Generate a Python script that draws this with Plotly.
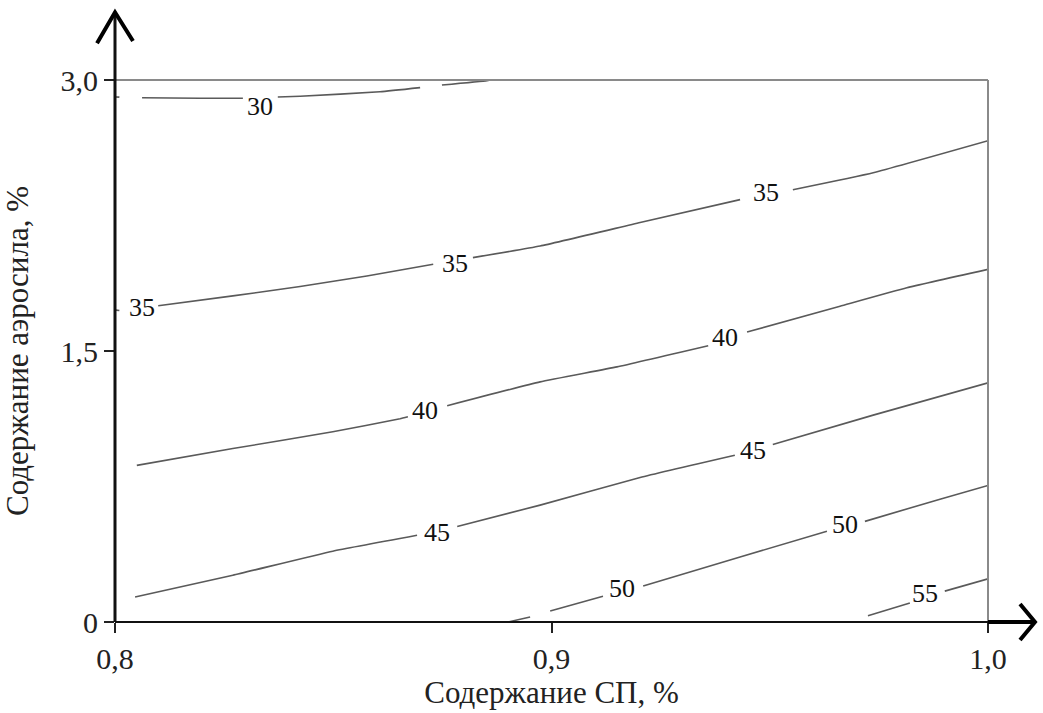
import plotly.graph_objects as go

# Содержание СП (x) и содержание аэросила (y) вдоль изолиний отклика
sp_30 = [0.8002, 0.8010, None, 0.8062, 0.8195, 0.8293, None, 0.8373, 0.8424, 0.8607, 0.8699, None, 0.8749, 0.8852, 0.8860]
aer_30 = [2.906, 2.905, None, 2.902, 2.899, 2.899, None, 2.906, 2.910, 2.935, 2.958, None, 2.972, 2.996, 3.000]

sp_35 = [0.8002, 0.8010, None, 0.8099, 0.8270, 0.8424, 0.8577, 0.8729, None,
         0.8820, 0.8974, 0.9203, 0.9432, None, 0.9553, 0.9737, 1.0000]
aer_35 = [1.726, 1.724, None, 1.750, 1.805, 1.857, 1.915, 1.980, None,
          2.017, 2.081, 2.211, 2.338, None, 2.393, 2.487, 2.664]

sp_40 = [0.8050, 0.8270, 0.8499, 0.8653, 0.8671, None, 0.8761, 0.8974, 0.9150, 0.9359, None,
         0.9448, 0.9661, 0.9814, 1.0000]
aer_40 = [0.867, 0.960, 1.053, 1.125, 1.136, None, 1.197, 1.329, 1.412, 1.529, None,
          1.605, 1.748, 1.850, 1.952]

sp_45 = [0.8046, 0.8270, 0.8499, 0.8692, None, 0.8784, 0.8974, 0.9203, 0.9420, None,
         0.9507, 0.9737, 1.0000]
aer_45 = [0.138, 0.259, 0.392, 0.480, None, 0.529, 0.647, 0.800, 0.923, None,
          0.982, 1.145, 1.324]

sp_50 = [0.8900, 0.8951, None, 0.8997, 0.9118, None, 0.9210, 0.9432, 0.9631, None,
         0.9718, 0.9890, 1.0000]
aer_50 = [0.000, 0.028, None, 0.061, 0.143, None, 0.199, 0.360, 0.502, None,
          0.557, 0.680, 0.756]

sp_55 = [0.9725, 0.9821, None, 0.9901, 1.0000]
aer_55 = [0.035, 0.105, None, 0.171, 0.239]

# Подписи уровней изолиний
label_text = ["30", "35", "35", "35", "40", "40", "45", "45", "50", "50", "55"]
label_sp = [0.8333, 0.8062, 0.8779, 0.9491, 0.8710, 0.9397, 0.8738, 0.9462, 0.9162, 0.9672, 0.9856]
label_aer = [2.851, 1.743, 1.985, 2.377, 1.169, 1.577, 0.496, 0.950, 0.188, 0.540, 0.160]

# Деления осей
x_ticks = [0.8, 0.9, 1.0]
x_ticktext = ["0,8", "0,9", "1,0"]
y_ticks = [0, 1.5, 3.0]
y_ticktext = ["0", "1,5", "3,0"]

FONT = "Liberation Serif, Times New Roman, serif"
LINE_COLOR = "#5a5a5a"

fig = go.Figure()
for xs, ys in [(sp_30, aer_30), (sp_35, aer_35), (sp_40, aer_40),
               (sp_45, aer_45), (sp_50, aer_50), (sp_55, aer_55)]:
    fig.add_trace(go.Scatter(
        x=xs, y=ys, mode="lines",
        line=dict(color=LINE_COLOR, width=1.6, shape="spline", smoothing=0.4),
        connectgaps=False, hoverinfo="skip", showlegend=False,
    ))

for t, x, y in zip(label_text, label_sp, label_aer):
    fig.add_annotation(x=x, y=y, text=t, showarrow=False,
                       font=dict(family=FONT, size=26, color="#111111"))

# Рамка области построения и оси со стрелками
shapes = [
    # верхняя и правая границы
    dict(type="line", xref="paper", yref="paper", x0=0, x1=1, y0=1, y1=1,
         line=dict(color="#8a8a8a", width=2)),
    dict(type="line", xref="paper", yref="paper", x0=1, x1=1, y0=0, y1=1,
         line=dict(color="#8a8a8a", width=2)),
    # ось X
    dict(type="line", xref="paper", yref="paper", x0=0, x1=1, y0=0, y1=0,
         line=dict(color="#111111", width=2)),
    dict(type="line", xref="paper", yref="paper", x0=1, x1=1.054, y0=0, y1=0,
         line=dict(color="#000000", width=4)),
    dict(type="path", xref="paper", yref="paper",
         path="M 1.0367,0.0331 L 1.0538,0 L 1.0367,-0.0331",
         line=dict(color="#000000", width=4)),
    # ось Y
    dict(type="line", xref="paper", yref="paper", x0=0, x1=0, y0=0, y1=1.125,
         line=dict(color="#111111", width=3)),
    dict(type="path", xref="paper", yref="paper",
         path="M -0.0206,1.068 L 0,1.125 L 0.0206,1.072",
         line=dict(color="#000000", width=4)),
]

fig.update_layout(
    width=1043, height=713,
    margin=dict(l=115, r=55, t=80, b=89),
    paper_bgcolor="white", plot_bgcolor="white",
    shapes=shapes,
    font=dict(family=FONT, color="#222222"),
    xaxis=dict(
        range=[0.8, 1.0], tickvals=x_ticks, ticktext=x_ticktext,
        showgrid=False, zeroline=False, showline=False,
        ticks="outside", ticklen=10, tickwidth=2, tickcolor="#222222",
        tickfont=dict(family=FONT, size=30, color="#222222"),
        title=dict(text="Содержание СП, %", font=dict(family=FONT, size=31, color="#222222"),
                   standoff=4),
    ),
    yaxis=dict(
        range=[0, 3.0], tickvals=y_ticks, ticktext=y_ticktext,
        showgrid=False, zeroline=False, showline=False,
        ticks="outside", ticklen=10, tickwidth=2, tickcolor="#222222",
        tickfont=dict(family=FONT, size=30, color="#222222"),
        title=dict(text="Содержание аэросила, %", font=dict(family=FONT, size=31, color="#222222"),
                   standoff=22),
    ),
)

fig.write_html("out.html")
